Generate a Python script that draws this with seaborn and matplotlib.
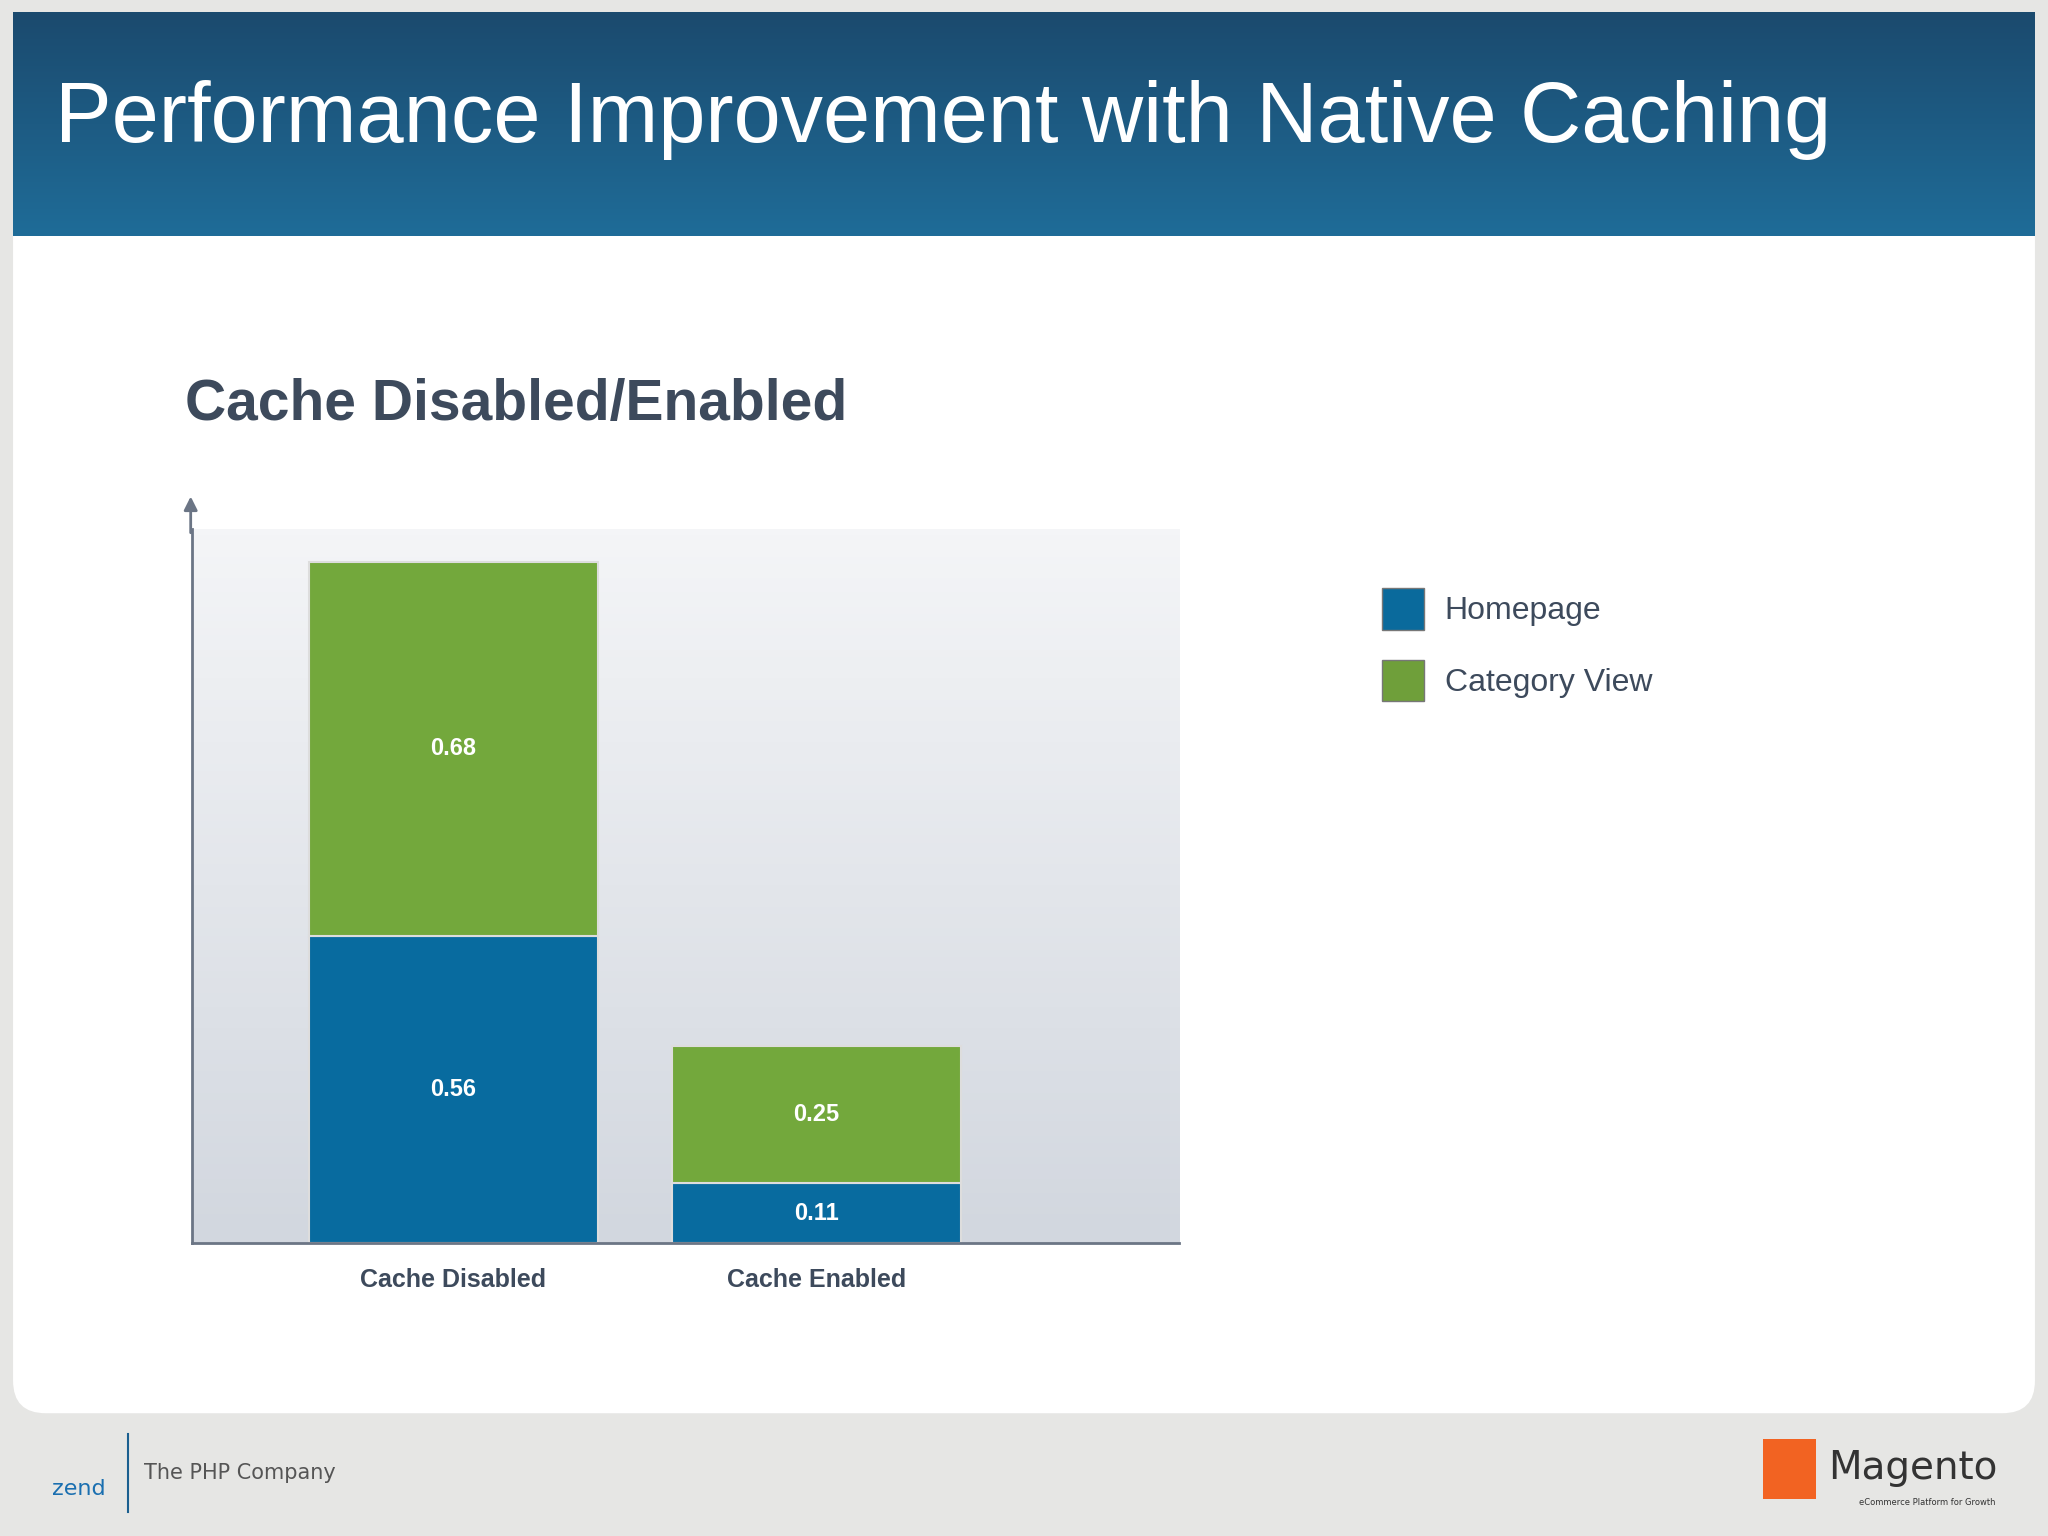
import numpy as np
import matplotlib
matplotlib.use("Agg")
import matplotlib.pyplot as plt
from matplotlib.patches import FancyBboxPatch, Rectangle
from matplotlib.colors import LinearSegmentedColormap
import seaborn as sns
import pandas as pd

categories = ["Cache Disabled", "Cache Enabled"]
homepage = [0.56, 0.11]
category_view = [0.68, 0.25]
series_names = ["Homepage", "Category View"]

FONT = "Liberation Sans"
W, H = 1568, 1176
fig = plt.figure(figsize=(20.48, 15.36), dpi=100)
fig.patch.set_facecolor("#e6e6e4")

def fx(x): return x / W
def fy(y): return 1 - y / H

bg = fig.add_axes([0, 0, 1, 1], zorder=0)
bg.set_xlim(0, W); bg.set_ylim(H, 0); bg.axis("off")
bg.add_patch(FancyBboxPatch((10, 150), W - 20, 932, boxstyle="round,pad=0,rounding_size=25",
                            facecolor="white", edgecolor="none", zorder=1))
grad = np.linspace(0, 1, 100).reshape(-1, 1)
hc = LinearSegmentedColormap.from_list("h", ["#1b4a6e", "#1f6c98"])
bg.imshow(grad, cmap=hc, extent=(10, W - 10, 181, 10), aspect="auto", zorder=3)
bg.text(42, 92, "Performance Improvement with Native Caching", color="white",
        fontsize=61, va="center", ha="left", family=FONT, zorder=4)
bg.text(142, 310, "Cache Disabled/Enabled", color="#3d4a5c", fontsize=41,
        fontweight="bold", va="center", family=FONT)
bg.text(110, 1128, "The PHP Company", color="#555555", fontsize=15, va="center")
bg.plot([98, 98], [1098, 1158], color="#1a5f8f", lw=1.5)
bg.text(60, 1140, "zend", color="#1a6fb0", fontsize=16, ha="center", va="center")
bg.text(1400, 1124, "Magento", color="#333333", fontsize=28, va="center", ha="left")
bg.text(1528, 1150, "eCommerce Platform for Growth", color="#333333", fontsize=6, ha="right", va="center")
bg.add_patch(Rectangle((1350, 1102), 40, 46, facecolor="#f26322", edgecolor="none"))
for y, c, t in [(466, "#0a6a9c", series_names[0]), (521, "#6f9f3a", series_names[1])]:
    bg.add_patch(Rectangle((1058, y - 16), 32, 32, facecolor=c, edgecolor="#777777", lw=1, zorder=2))
    bg.text(1106, y + 2, t, fontsize=23, color="#3d4a5c", va="center", family=FONT)

ax = fig.add_axes([fx(147), fy(952), fx(903) - fx(147), fy(405) - fy(952)], zorder=1)
ax.set_facecolor("none")
bgrad = LinearSegmentedColormap.from_list("b", ["#f4f5f7", "#d2d7df"])
ax.imshow(grad, cmap=bgrad, extent=(-0.72, 2.0, 0, 1.30), origin="upper", aspect="auto", zorder=0)

df = pd.DataFrame({"cat": categories, "home": homepage, "catv": category_view})
sns.barplot(data=df, x="cat", y="home", color="#086b9f", width=0.795, ax=ax,
            saturation=1, edgecolor="#dddddd", linewidth=1.5, zorder=2)
sns.barplot(data=df, x="cat", y="catv", bottom=df["home"], color="#73a83c", width=0.795,
            ax=ax, saturation=1, edgecolor="#dddddd", linewidth=1.5, zorder=2)
for i, (h, c) in enumerate(zip(homepage, category_view)):
    ax.text(i, h / 2, f"{h:.2f}", color="white", fontsize=17, fontweight="bold", ha="center", va="center", zorder=3, family=FONT)
    ax.text(i, h + c / 2, f"{c:.2f}", color="white", fontsize=17, fontweight="bold", ha="center", va="center", zorder=3, family=FONT)
ax.set_xlim(-0.72, 2.0)
ax.set_ylim(0, 1.30)
ax.set_xlabel(""); ax.set_ylabel("")
ax.set_yticks([])
ax.tick_params(axis="x", length=0, pad=18, labelsize=18, labelcolor="#3d4a5c")
for l in ax.get_xticklabels():
    l.set_fontweight("bold"); l.set_family(FONT)
for s in ["top", "right"]:
    ax.spines[s].set_visible(False)
ax.spines["left"].set_color("#6b7585"); ax.spines["bottom"].set_color("#6b7585")
ax.spines["left"].set_linewidth(2); ax.spines["bottom"].set_linewidth(2)
bg.annotate("", xy=(146, 378), xytext=(146, 410),
            arrowprops=dict(arrowstyle="-|>", color="#6b7585", lw=2, mutation_scale=20))
fig.savefig("out.png", dpi=100, facecolor=fig.get_facecolor())
